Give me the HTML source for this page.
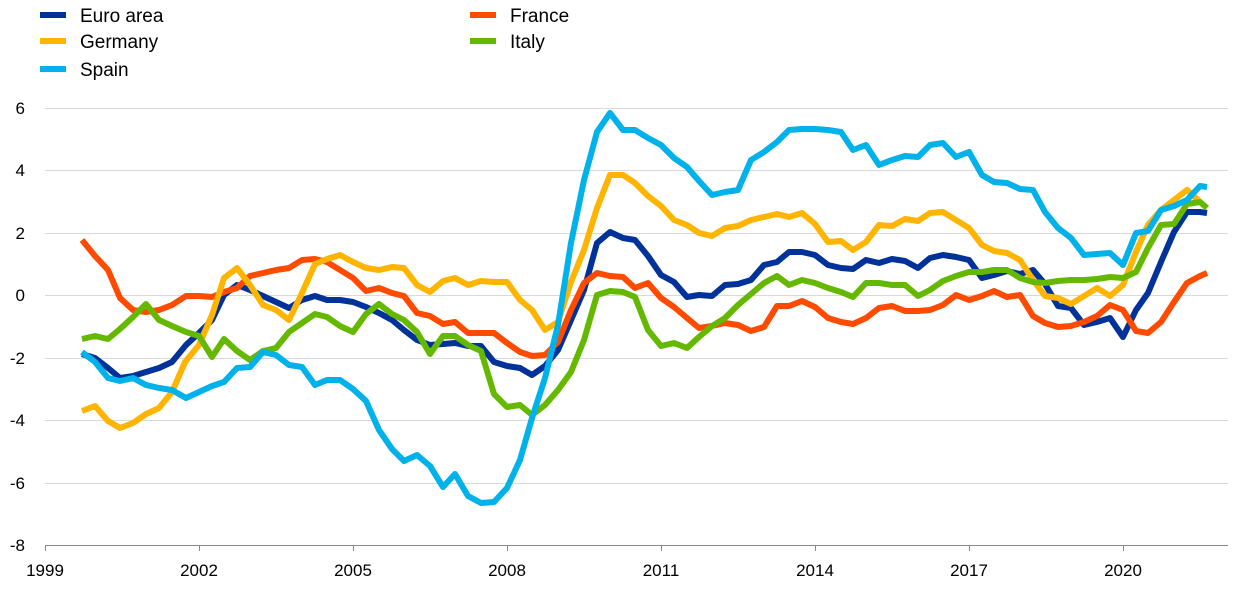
<!DOCTYPE html>
<html><head><meta charset="utf-8"><style>
body{margin:0;background:#fff;}
svg{display:block;font-family:"Liberation Sans",Arial,sans-serif;}
</style></head><body>
<svg width="1240" height="590" viewBox="0 0 1240 590">
<g stroke="#d9d9d9" stroke-width="1">
<line x1="45" x2="1228" y1="108.5" y2="108.5"/>
<line x1="45" x2="1228" y1="170.5" y2="170.5"/>
<line x1="45" x2="1228" y1="233.5" y2="233.5"/>
<line x1="45" x2="1228" y1="295.5" y2="295.5"/>
<line x1="45" x2="1228" y1="358.5" y2="358.5"/>
<line x1="45" x2="1228" y1="420.5" y2="420.5"/>
<line x1="45" x2="1228" y1="483.5" y2="483.5"/>
</g>
<line x1="45" x2="1228" y1="545.5" y2="545.5" stroke="#888" stroke-width="1"/>
<g stroke="#888" stroke-width="1">
<line x1="45.5" x2="45.5" y1="545" y2="551"/><line x1="199.5" x2="199.5" y1="545" y2="551"/><line x1="353.5" x2="353.5" y1="545" y2="551"/><line x1="507.5" x2="507.5" y1="545" y2="551"/><line x1="661.5" x2="661.5" y1="545" y2="551"/><line x1="815.5" x2="815.5" y1="545" y2="551"/><line x1="969.5" x2="969.5" y1="545" y2="551"/><line x1="1123.5" x2="1123.5" y1="545" y2="551"/>
</g>
<g font-size="17" fill="#000" text-anchor="end">
<text x="25" y="114">6</text><text x="25" y="176">4</text><text x="25" y="239">2</text><text x="25" y="301">0</text><text x="25" y="364">-2</text><text x="25" y="426">-4</text><text x="25" y="489">-6</text><text x="25" y="551">-8</text>
</g>
<g font-size="17" fill="#000" text-anchor="middle">
<text x="45" y="576">1999</text><text x="199" y="576">2002</text><text x="353" y="576">2005</text><text x="507" y="576">2008</text><text x="661" y="576">2011</text><text x="815" y="576">2014</text><text x="969" y="576">2017</text><text x="1123" y="576">2020</text>
</g>
<g fill="none" stroke-width="6" stroke-linejoin="round">
<polyline stroke="#003299" points="82,354 95,358 108,368 120,378 133,376 146,372 159,368 172,362 186,345 199,333 212,320 224,295 237,285 250,290 263,296 276,302 289,308 302,300 315,296 327,300 340,300 353,302 366,307 379,313 392,320 404,330 417,340 430,345 443,344 455,343 468,346 481,346 494,362 507,366 520,368 532,375 545,366 558,350 571,320 584,290 597,243 610,232 623,238 635,240 648,256 661,275 674,282 687,297 699,295 712,296 725,285 738,284 751,280 764,265 777,262 789,252 802,252 815,255 828,265 841,268 853,269 866,260 879,263 892,259 905,261 918,268 930,258 943,255 956,257 969,260 982,278 994,275 1007,271 1020,274 1033,270 1045,284 1058,306 1071,308 1084,325 1097,322 1110,318 1123,337 1136,310 1148,293 1161,262 1174,232 1187,212 1200,212 1207,213"/>
<polyline stroke="#ff4b00" points="82,240 95,256 108,270 120,298 133,310 146,312 159,310 172,305 186,296 199,296 212,297 224,292 237,288 250,276 263,273 276,270 289,268 302,260 315,259 327,262 340,270 353,278 366,291 379,288 392,293 404,296 417,313 430,316 443,324 455,322 468,333 481,333 494,333 507,343 520,352 532,356 545,355 558,342 571,310 584,283 597,273 610,276 623,277 635,288 648,283 661,298 674,307 687,318 699,328 712,326 725,323 738,325 751,331 764,327 777,306 789,306 802,301 815,307 828,318 841,322 853,324 866,318 879,308 892,306 905,311 918,311 930,310 943,305 956,295 969,300 982,296 994,291 1007,297 1020,295 1033,316 1045,323 1058,327 1071,326 1084,322 1097,316 1110,305 1123,310 1136,331 1148,333 1161,322 1174,302 1187,283 1200,276 1207,273"/>
<polyline stroke="#ffb400" points="82,411 95,406 108,421 120,428 133,423 146,414 159,408 172,392 185,362 199,345 212,315 224,278 237,268 250,285 263,305 276,310 289,320 302,293 315,264 327,259 340,255 353,262 366,268 379,270 392,267 404,268 417,285 430,292 443,281 455,278 468,285 481,281 494,282 507,282 520,300 532,310 545,330 558,322 571,282 584,250 597,208 610,175 623,175 635,183 648,196 661,206 674,220 687,225 699,233 712,236 725,228 738,226 751,220 764,217 777,214 789,217 802,213 815,224 828,242 841,241 853,250 866,242 879,225 892,226 905,219 918,221 930,213 943,212 956,220 969,228 982,245 994,251 1007,253 1020,260 1033,280 1045,296 1058,298 1071,304 1084,296 1097,288 1110,296 1123,285 1136,252 1148,225 1161,210 1174,200 1187,190 1200,202"/>
<polyline stroke="#65b800" points="82,339 95,336 108,339 120,329 133,317 146,304 159,320 172,326 186,332 199,336 212,357 224,339 237,351 250,360 263,351 276,348 289,332 302,323 315,314 327,317 340,326 353,332 366,314 379,304 392,314 404,320 417,332 430,354 443,336 455,336 468,345 481,351 494,394 507,407 520,405 532,415 545,405 558,390 571,372 584,340 597,295 610,291 623,292 635,297 648,330 661,346 674,343 687,348 699,337 712,326 725,318 738,305 751,294 764,283 777,276 789,285 802,280 815,283 828,288 841,292 853,297 866,283 879,283 892,285 905,285 918,296 930,290 943,281 956,276 969,272 982,272 994,270 1007,270 1020,278 1033,282 1045,283 1058,281 1071,280 1084,280 1097,279 1110,277 1123,278 1136,272 1148,248 1161,225 1174,224 1187,204 1200,202 1207,208"/>
<polyline stroke="#00b1ea" points="82,352 95,362 108,378 120,381 133,378 146,385 159,388 172,390 186,398 199,392 212,386 224,382 237,368 250,367 263,352 276,355 289,365 302,367 315,385 327,380 340,380 353,389 366,401 379,430 392,449 404,461 417,455 430,466 443,487 455,474 468,496 481,503 494,502 507,488 520,460 532,418 545,378 558,325 571,243 584,180 597,132 610,113 623,130 635,130 648,138 661,145 674,158 687,167 699,181 712,195 725,192 738,190 751,160 764,152 777,142 789,130 802,129 815,129 828,130 841,132 853,150 866,145 879,165 892,160 905,156 918,157 930,145 943,143 956,157 969,152 982,175 994,182 1007,183 1020,189 1033,190 1045,212 1058,228 1071,238 1084,255 1097,254 1110,253 1123,265 1136,233 1148,231 1161,210 1174,206 1187,200 1200,186 1207,187"/>
</g>
<g stroke-width="6">
<line x1="40" x2="66" y1="15" y2="15" stroke="#003299"/>
<line x1="40" x2="66" y1="41" y2="41" stroke="#ffb400"/>
<line x1="40" x2="66" y1="69" y2="69" stroke="#00b1ea"/>
<line x1="470" x2="496" y1="15" y2="15" stroke="#ff4b00"/>
<line x1="470" x2="496" y1="41" y2="41" stroke="#65b800"/>
</g>
<g font-size="19" fill="#000">
<text x="80" y="22">Euro area</text>
<text x="80" y="48">Germany</text>
<text x="80" y="76">Spain</text>
<text x="510" y="22">France</text>
<text x="510" y="48">Italy</text>
</g>
</svg>
</body></html>
